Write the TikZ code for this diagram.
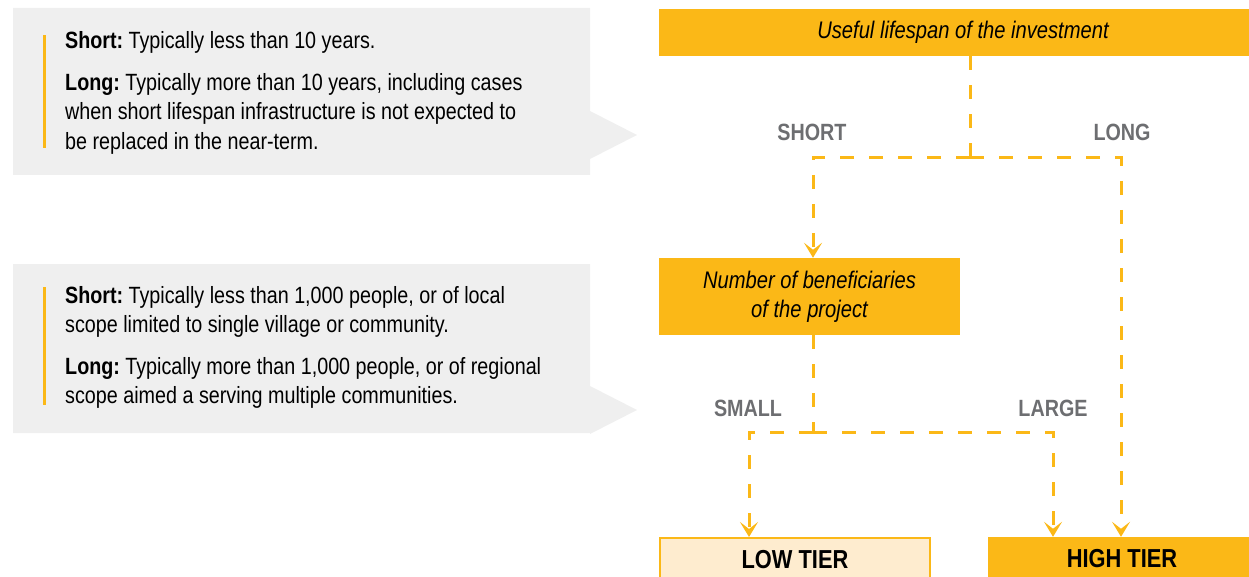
\documentclass[tikz,border=0pt]{standalone}
\usepackage{fontspec}
\setmainfont[FakeStretch=0.84]{Liberation Sans}
\usetikzlibrary{arrows.meta}
\definecolor{orng}{HTML}{FBB817}
\definecolor{cream}{HTML}{FEECCF}
\definecolor{calloutgray}{HTML}{EFEFEF}
\definecolor{labelgray}{HTML}{6D6E71}
\begin{document}
\begin{tikzpicture}[x=1pt,y=-1pt,
  decision/.style={fill=orng, inner sep=0pt, font=\fontsize{24}{29}\selectfont\itshape, align=center},
  tierbox/.style={inner sep=0pt, minimum height=44pt, font=\fontsize{26}{30}\selectfont\bfseries},
  branchlabel/.style={text=labelgray, inner sep=0pt, font=\fontsize{23.5}{26}\selectfont\bfseries},
  conn/.style={draw=orng, line width=3pt, dash pattern=on 14pt off 15pt},
  tip/.style={-{Stealth[length=15pt,width=18pt,inset=7pt]}},
  callout/.style={fill=calloutgray},
  bar/.style={fill=orng},
  note/.style={font=\fontsize{23.5}{29.5}\selectfont, align=left, anchor=north west, inner sep=0pt}]
\useasboundingbox (0,0) rectangle (1249,577);

% callouts
\fill[callout] (13,8) -- (590,8) -- (590,111) -- (637,135) -- (590,159) -- (590,175) -- (13,175) -- cycle;
\fill[bar] (43,35) rectangle (46,148);
\node[note] (n1a) at (65,30.8) {\textbf{Short:}\hspace{-2pt} Typically less than 10 years.};
\node[note] (n1b) at (65,72.8) {\textbf{Long:}\hspace{-2pt} Typically more than 10 years, including cases\\when short lifespan infrastructure is not expected to\\be replaced in the near-term.};

\fill[callout] (13,264) -- (590,264) -- (590,386) -- (637,410) -- (590,434) -- (590,433) -- (13,433) -- cycle;
\fill[bar] (43,287) rectangle (46,405);
\node[note] (n2a) at (65,285.8) {\textbf{Short:}\hspace{-2pt} Typically less than 1,000 people, or of local\\scope limited to single village or community.};
\node[note] (n2b) at (65,356.8) {\textbf{Long:}\hspace{-2pt} Typically more than 1,000 people, or of regional\\scope aimed a serving multiple communities.};

% decision boxes
\node[decision, minimum width=608pt, minimum height=47pt] (top) at (963,32.5) {Useful lifespan of the investment};
\node[decision, minimum width=301pt, minimum height=77pt] (benef) at (809.5,296.5) {Number of beneficiaries\\of the project};

% tiers
\node[tierbox, draw=orng, line width=2pt, fill=cream, minimum width=270pt] (low) at (795,560) {LOW TIER};
\node[tierbox, fill=orng, minimum width=268pt] (high) at (1122,559) {HIGH TIER};

% branch labels
\node[branchlabel] (short) at (812,132) {SHORT};
\node[branchlabel] (long) at (1122,132) {LONG};
\node[branchlabel] (small) at (748,408) {SMALL};
\node[branchlabel] (large) at (1053,408) {LARGE};

% connectors
\coordinate (j1) at (970,158);
\coordinate (j2) at (813,432);
\draw[conn] ([xshift=7pt]top.south) -- (j1);
\draw[conn,tip] (j1) -| ([xshift=3.5pt]benef.north);
\draw[conn,tip] (j1) -| ([xshift=-1pt]high.north);
\draw[conn] ([xshift=3.5pt]benef.south) -- (j2);
\draw[conn,tip] (j2) -| ([xshift=-46pt]low.north);
\draw[conn,tip] (j2) -| ([xshift=-69pt]high.north);
\end{tikzpicture}
\end{document}
